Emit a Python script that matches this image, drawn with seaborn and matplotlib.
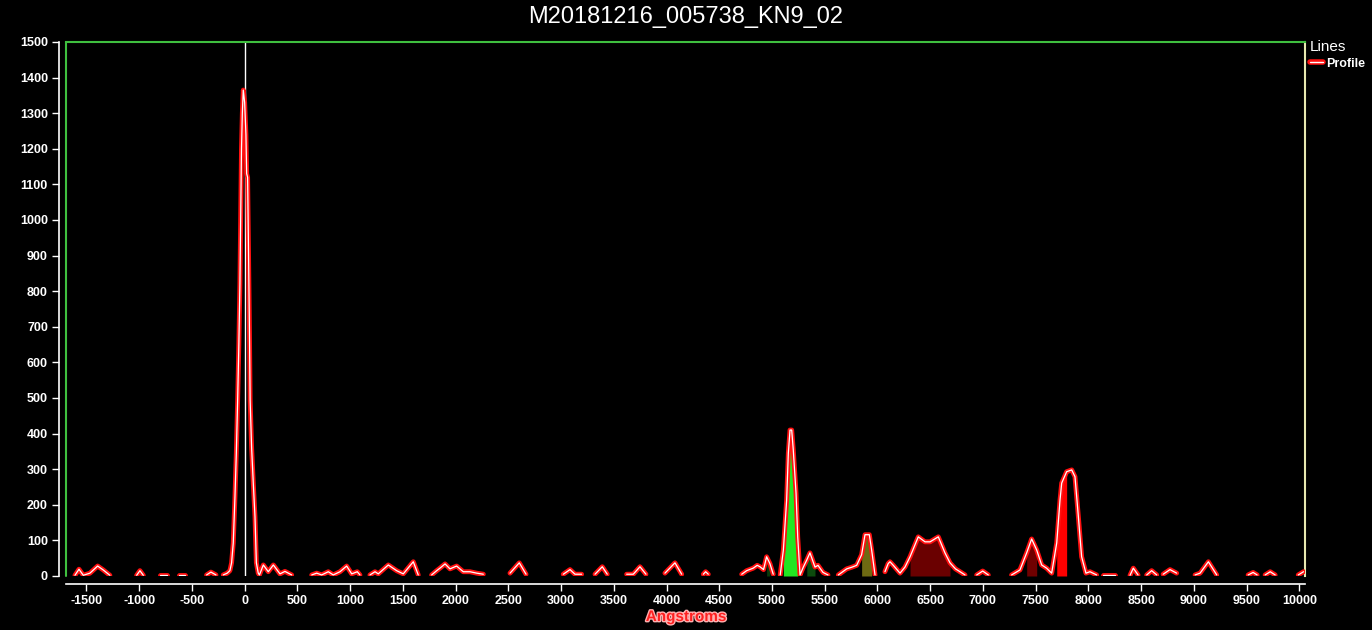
import numpy as np
import pandas as pd
import seaborn as sns
import matplotlib
matplotlib.use('Agg')
from matplotlib import pyplot as plt
import matplotlib.patheffects as pe
from matplotlib.lines import Line2D

# Profile data (NaN = gap in the trace)
nan = np.nan
wl = [-1609, -1571, -1530, -1467, -1394, -1341, -1278, nan,
      -1024, -993, -961, nan,
      -803, -740, nan,
      -620, -566, nan,
      -361, -320, -272, nan,
      -203, -165, -140, -124, -108, -92, -79, -66, -55, -45, -38, -30, -22, -13, 0, 12, 19, 28, 35, 45,
      52, 66, 82, 98, 111, 129, 140, 177, 224, 272, 335, 382, 446, nan,
      636, 683, 730, 793, 840, 904, 967, 1015, 1068, 1093, nan,
      1188, 1236, 1267, 1362, 1441, 1504, 1599, 1646, nan,
      1773, 1821, 1860, 1900, 1947, 2010, 2073, 2136, 2200, 2263, nan,
      2516, 2604, 2668, nan,
      3021, 3085, 3132, 3195, nan,
      3322, 3391, 3438, nan,
      3622, 3685, 3748, 3805, nan,
      3985, 4080, 4144, nan,
      4349, 4371, 4396, nan,
      4713, 4760, 4822, 4860, 4886, 4920, 4949, 4980, 5012, nan,
      5078, 5108, 5139, 5155, 5171, 5187, 5202, 5228, 5244, 5266, 5297, 5330, 5360, 5408, 5436, 5484, 5531, nan,
      5629, 5708, 5760, 5803, 5850, 5882, 5923, 5945, 5977, nan,
      6071, 6102, 6119, 6150, 6214, 6261, 6309, 6387, 6451, 6499, 6577, 6640, 6688, 6740, 6783, 6830, nan,
      6941, 6998, 7051, nan,
      7272, 7351, 7415, 7462, 7510, 7557, 7604, 7652, 7700, 7731, 7747, 7794, 7842, 7873, 7905, 7936, 7977,
      8015, 8078, nan,
      8140, 8250, nan,
      8395, 8426, 8471, nan,
      8553, 8600, 8648, nan,
      8709, 8774, 8837, nan,
      9012, 9059, 9138, 9217, nan,
      9515, 9562, 9600, nan,
      9676, 9724, 9771, nan,
      9990, 10040]
counts = [2, 19, 2, 8, 28, 17, 2, nan,
          2, 15, 2, nan,
          4, 4, nan,
          4, 4, nan,
          3, 11, 3, nan,
          3, 8, 15, 37, 93, 222, 345, 500, 650, 820, 1000, 1200, 1300, 1365, 1330, 1240, 1130, 1120, 950, 700,
          494, 360, 260, 166, 37, 8, 3, 31, 12, 31, 6, 13, 3, nan,
          3, 8, 3, 12, 3, 12, 28, 6, 12, 3, nan,
          3, 12, 6, 31, 15, 6, 40, 3, nan,
          3, 15, 24, 34, 20, 28, 12, 12, 8, 5, nan,
          8, 37, 5, nan,
          5, 18, 5, 5, nan,
          5, 26, 5, nan,
          5, 5, 26, 5, nan,
          8, 37, 5, nan,
          5, 12, 5, nan,
          5, 15, 22, 30, 26, 18, 54, 35, 5, nan,
          3, 73, 213, 345, 410, 410, 354, 233, 110, 3, 25, 45, 65, 25, 30, 10, 3, nan,
          3, 20, 25, 30, 60, 116, 116, 73, 3, nan,
          12, 35, 40, 30, 8, 25, 54, 110, 96, 96, 110, 65, 37, 20, 12, 3, nan,
          3, 14, 3, nan,
          3, 17, 65, 104, 73, 31, 22, 8, 93, 213, 261, 293, 298, 279, 167, 54, 8,
          12, 3, nan,
          2, 2, nan,
          2, 22, 3, nan,
          3, 15, 3, nan,
          5, 18, 8, nan,
          3, 8, 40, 3, nan,
          3, 10, 3, nan,
          3, 12, 3, nan,
          3, 12]

# shaded bands under the profile
fill_lo = [4930, 5108, 5330, 5850, 6309, 7415, 7690]
fill_hi = [5000, 5244, 5408, 5945, 6700, 7520, 7800]
fill_colors = ['#0b3a0b', '#22e622', '#0d4a0d', '#6e6a12', '#6a0000', '#700000', '#ff0000']

title = 'M20181216_005738_KN9_02'

sns.set_style('ticks')
plt.rcParams['font.family'] = ['Liberation Sans', 'DejaVu Sans']
plt.rcParams['font.weight'] = 'bold'
plt.rcParams['axes.unicode_minus'] = False

df = pd.DataFrame({'wl': wl, 'counts': counts})
df['seg'] = df['counts'].isna().cumsum()
df = df.dropna()

fig = plt.figure(figsize=(13.72, 6.3), dpi=100, facecolor='black')
ax = fig.add_axes([66 / 1372, 54 / 630, (1305 - 66) / 1372, (576 - 42) / 630])
ax.set_facecolor('black')

for lo, hi, c in zip(fill_lo, fill_hi, fill_colors):
    sub = df[(df.wl >= lo) & (df.wl <= hi)]
    ax.fill_between(sub.wl, 0, sub.counts, color=c, lw=0, zorder=1)

ax.axvline(0, color='white', lw=1, zorder=1)

sns.lineplot(data=df, x='wl', y='counts', units='seg', estimator=None, sort=False,
             color='#ff1010', lw=3.5, ax=ax, legend=False, zorder=3)
sns.lineplot(data=df, x='wl', y='counts', units='seg', estimator=None, sort=False,
             color='white', lw=0.9, ax=ax, legend=False, zorder=4)

ax.set_xlim(-1694, 10054)
ax.set_ylim(0, 1500)
ax.set_xticks(range(-1500, 10001, 500))
ax.set_yticks(range(0, 1501, 100))
ax.set_xlabel('')
ax.set_ylabel('')
ax.tick_params(colors='white', length=5, width=1, labelsize=9, pad=3)
for lab in ax.get_xticklabels() + ax.get_yticklabels():
    lab.set_path_effects([pe.withStroke(linewidth=2, foreground='#10104a')])

for s in ['left', 'bottom']:
    ax.spines[s].set_color('white')
    ax.spines[s].set_linewidth(1.2)
ax.spines['left'].set_position(('outward', 5))
ax.spines['bottom'].set_position(('outward', 6))
ax.spines['top'].set_color('#3fbf3f')
ax.spines['top'].set_linewidth(1.5)
ax.spines['right'].set_color('#e8e8b0')
ax.spines['right'].set_linewidth(1.5)
ax.plot([0, 0], [0, 1], transform=ax.transAxes, color='#3fbf3f', lw=1.5, clip_on=False)

fig.text(0.5, 1 - 17 / 630, title, ha='center', va='center', fontsize=17, color='white',
         fontweight='normal')
fig.text(686 / 1372, 1 - 617 / 630, 'Angstroms', ha='center', va='center', fontsize=11,
         fontweight='bold', color='#ff2020',
         path_effects=[pe.withStroke(linewidth=2, foreground='#ffb0b0')])

handles = [(Line2D([], [], color='#ff1010', lw=4), Line2D([], [], color='white', lw=1))]
leg = ax.legend(handles, ['Profile'], title='Lines', loc='upper left', bbox_to_anchor=(0.998, 1.018),
                frameon=False, handlelength=1.0, handletextpad=0.3, labelcolor='white',
                prop={'weight': 'bold', 'size': 9}, title_fontsize=11, alignment='left',
                borderaxespad=0.2, labelspacing=0.3)
leg.get_title().set_color('white')
leg.get_title().set_fontweight('normal')

fig.savefig('out.png', dpi=100, facecolor='black')
